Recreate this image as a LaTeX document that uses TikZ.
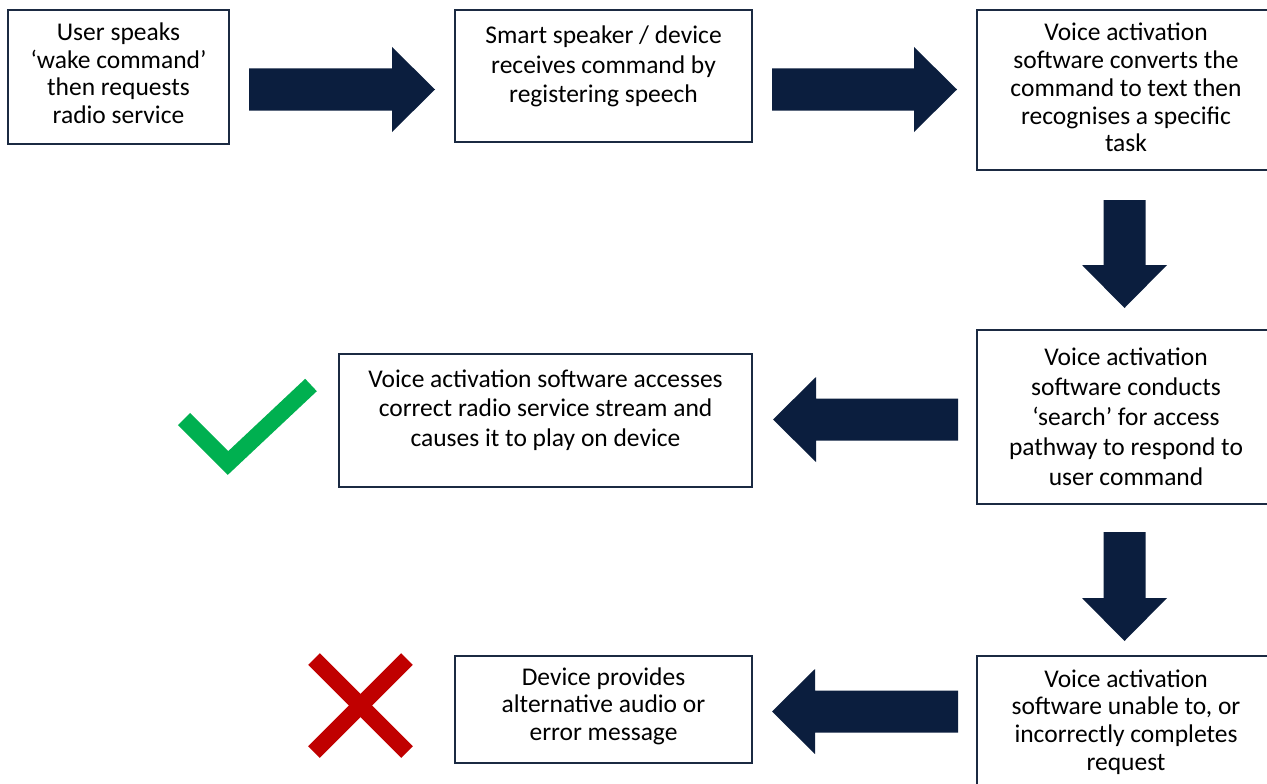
\documentclass[tikz,border=0pt]{standalone}
\usepackage{fontspec}
\setmainfont{Carlito}
\definecolor{navy}{HTML}{0B1E3E}
\definecolor{boxline}{HTML}{1B2A42}
\definecolor{okgreen}{HTML}{00B050}
\definecolor{badred}{HTML}{C00000}
\tikzset{
  box/.style={draw=boxline, line width=2pt, fill=white, inner sep=0pt},
  boxtext/.style={align=center, inner sep=0pt, text=black,
    font=\fontsize{25.5}{#1}\selectfont},
  blockarrow/.style={fill=navy, draw=none},
}
% #1 x0, #2 y0 (tail centre, px), #3 #4 #5 #6 = cm matrix entries, #7 length
\newcommand\barrowdraw[7]{%
  \begin{scope}[cm={#3,#4,#5,#6,(#1,#2)}]
    \fill[blockarrow] (0,-21) -- ({#7-43},-21) -- ({#7-43},-42.5) -- (#7,0)
      -- ({#7-43},42.5) -- ({#7-43},21) -- (0,21) -- cycle;
  \end{scope}}
\begin{document}
\begin{tikzpicture}[x=1pt,y=-1pt]
\useasboundingbox (0,0) rectangle (1267,784);
\clip (0,0) rectangle (1267,784);
\fill[white] (0,0) rectangle (1267,784);

\node[box, minimum width=221, minimum height=134] (a) at (118.5,77) {};
\node[boxtext=27.5] (at) at (118.5,73)
  {User speaks\\‘wake command’\\then requests\\radio service};
\node[box, minimum width=297, minimum height=132] (b) at (603.5,76) {};
\node[boxtext=29.5] (bt) at (603.5,66.5)
  {Smart speaker / device\\receives command by\\registering speech};
\node[box, minimum width=298, minimum height=160] (c) at (1126,90) {};
\node[boxtext=27.8] (ct) at (1126,87.5)
  {Voice activation\\software converts the\\command to text then\\recognises a specific\\task};
\node[box, minimum width=298, minimum height=174] (d) at (1126,417) {};
\node[boxtext=30] (dt) at (1126,417)
  {Voice activation\\software conducts\\‘search’ for access\\pathway to respond to\\user command};
\node[box, minimum width=413, minimum height=133] (e) at (545.5,420.5) {};
\node[boxtext=29.5] (et) at (545.5,410)
  {Voice activation software accesses\\correct radio service stream and\\causes it to play on device};
\node[box, minimum width=298, minimum height=138] (f) at (1126,725) {};
\node[boxtext=27.8] (ft) at (1126,722)
  {Voice activation\\software unable to, or\\incorrectly completes\\request};
\node[box, minimum width=297, minimum height=107] (g) at (603.5,709.5) {};
\node[boxtext=27.5] (gt) at (603.5,706)
  {Device provides\\alternative audio or\\error message};

% block arrows
\barrowdraw{249}{89.5}{1}{0}{0}{1}{186}
\barrowdraw{772}{89.5}{1}{0}{0}{1}{185}
\barrowdraw{1124.5}{200}{0}{-1}{1}{0}{108}
\barrowdraw{958}{419.5}{-1}{0}{0}{-1}{185}
\barrowdraw{1124.5}{532}{0}{-1}{1}{0}{109}
\barrowdraw{958}{711.5}{-1}{0}{0}{-1}{186}

% tick and cross
\draw[okgreen, line width=17pt, line join=miter] (184,419) -- (228,463) -- (311,385);
\draw[badred, line width=16.5pt] (314,659) -- (407,752);
\draw[badred, line width=16.5pt] (407,659) -- (314,752);
\end{tikzpicture}
\end{document}
